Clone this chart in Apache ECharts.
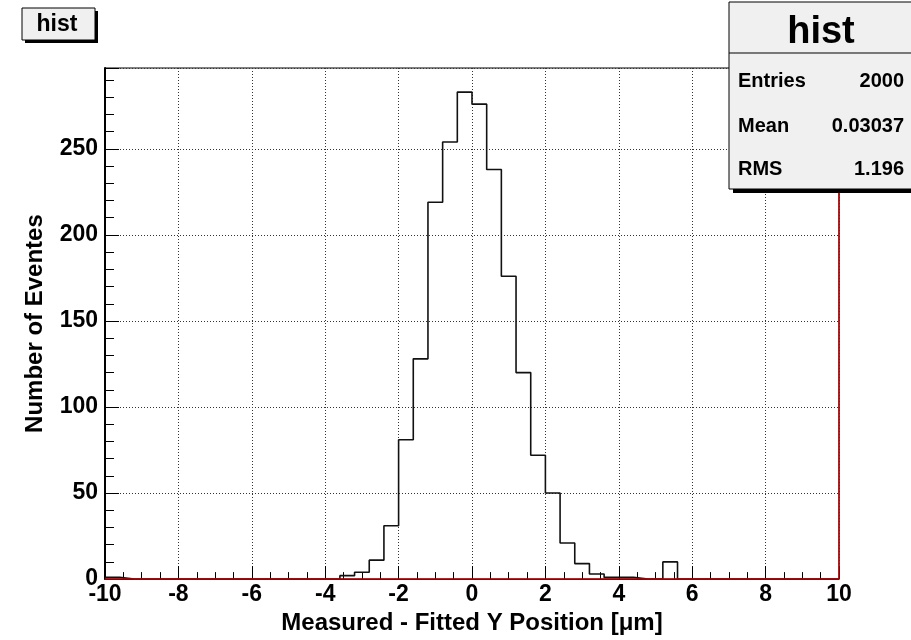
<!DOCTYPE html>
<html>
<head>
<meta charset="utf-8">
<script src="https://cdn.jsdelivr.net/npm/echarts@6/dist/echarts.min.js"></script>
<style>
html,body{margin:0;padding:0;background:#fff;}
#c{width:911px;height:640px;}
</style>
</head>
<body>
<div id="c"></div>
<script>
// ---- data ----
const binLow = -10;
const binWidth = 0.4;
const counts = [
  1, 0, 0, 0, 0, 0, 0, 0, 0, 0,
  0, 0, 0, 0, 0, 0, 2, 4, 11, 31,
  81, 128, 219, 254, 283, 276, 238, 176, 120, 72,
  50, 21, 9, 3, 1, 1, 0, 0, 10, 0,
  0, 0, 0, 0, 0, 0, 0, 0, 0, 0
];
const xTicks = [-10, -8, -6, -4, -2, 0, 2, 4, 6, 8, 10];
const yTicks = [0, 50, 100, 150, 200, 250];
const statsTitle = 'hist';
const statsNames = ['Entries', 'Mean', 'RMS'];
const statsValues = ['2000', '0.03037', '1.196'];
const xTitle = 'Measured - Fitted Y Position [\u03bcm]';
const yTitle = 'Number of Eventes';

// ---- build step outline ----
const stepData = counts.map((v, i) => [binLow + i * binWidth, v]);
stepData.push([binLow + counts.length * binWidth, counts[counts.length - 1]]);

const yMax = 297;
const FONT = '"Liberation Sans", Arial, Helvetica, sans-serif';

const chart = echarts.init(document.getElementById('c'), null, {renderer: 'canvas'});
chart.setOption({
  backgroundColor: '#ffffff',
  animation: false,
  grid: {left: 105, right: 72, top: 68, bottom: 56, show: true, borderColor: '#000', borderWidth: 1, backgroundColor: '#fff'},
  xAxis: {
    type: 'value', min: xTicks[0], max: xTicks[xTicks.length - 1], interval: 2,
    axisLine: {show: true, onZero: false, lineStyle: {color: '#000', width: 1}},
    axisTick: {show: true, inside: true, length: 13, lineStyle: {color: '#000', width: 1}},
    minorTick: {show: true, splitNumber: 4, length: 7, lineStyle: {color: '#000', width: 1}},
    splitLine: {show: true, lineStyle: {color: '#333', type: [1, 2], width: 1}},
    axisLabel: {color: '#000', fontFamily: FONT, fontWeight: 'bold', fontSize: 23, margin: 4,
      formatter: v => xTicks.includes(v) ? String(v) : ''},
    name: xTitle, nameLocation: 'middle', nameGap: 28,
    nameTextStyle: {color: '#000', fontFamily: FONT, fontWeight: 'bold', fontSize: 24}
  },
  yAxis: {
    type: 'value', min: 0, max: yMax, interval: 50,
    axisLine: {show: true, onZero: false, lineStyle: {color: '#000', width: 2}},
    axisTick: {show: true, inside: true, length: 14, lineStyle: {color: '#000', width: 1}},
    minorTick: {show: true, splitNumber: 5, length: 9, lineStyle: {color: '#000', width: 1}},
    splitLine: {show: true, lineStyle: {color: '#333', type: [1, 2], width: 1}},
    axisLabel: {color: '#000', fontFamily: FONT, fontWeight: 'bold', fontSize: 23, margin: 7,
      showMaxLabel: false,
      formatter: v => yTicks.includes(v) ? String(v) : ''},
    name: yTitle, nameLocation: 'middle', nameGap: 58, nameRotate: 90,
    nameTextStyle: {color: '#000', fontFamily: FONT, fontWeight: 'bold', fontSize: 24}
  },
  series: [{
    type: 'line',
    step: 'end',
    data: stepData,
    symbol: 'none',
    lineStyle: {color: '#111', width: 1.6},
    z: 3,
    markLine: {
      silent: true, symbol: 'none', animation: false,
      label: {show: false},
      lineStyle: {color: '#c00000', width: 1.5, type: 'solid'},
      data: [
        [{coord: [xTicks[0], 0]}, {coord: [xTicks[xTicks.length - 1], 0]}],
        [{coord: [xTicks[xTicks.length - 1], 0]}, {coord: [xTicks[xTicks.length - 1], yMax]}]
      ]
    }
  }],
  graphic: [
    // title box "hist"
    {type: 'rect', x: 25, y: 11, shape: {width: 73, height: 32}, style: {fill: '#000'}, z: 10},
    {type: 'rect', x: 22, y: 8, shape: {width: 73, height: 32}, style: {fill: '#f0f0f0', stroke: '#000', lineWidth: 1}, z: 11},
    {type: 'text', x: 57, y: 25, style: {text: statsTitle, font: 'bold 23px ' + FONT, fill: '#000', align: 'center', verticalAlign: 'middle'}, z: 12},
    // stats box
    {type: 'rect', x: 733, y: 6, shape: {width: 200, height: 187}, style: {fill: '#000'}, z: 10},
    {type: 'rect', x: 729, y: 2, shape: {width: 200, height: 187}, style: {fill: '#f0f0f0', stroke: '#000', lineWidth: 1}, z: 11},
    {type: 'line', shape: {x1: 729, y1: 53, x2: 911, y2: 53}, style: {stroke: '#000', lineWidth: 1}, z: 12},
    {type: 'text', x: 821, y: 33, style: {text: statsTitle, font: 'bold 38px ' + FONT, fill: '#000', align: 'center', verticalAlign: 'middle'}, z: 12},
    {type: 'text', x: 738, y: 81, style: {text: statsNames[0], font: 'bold 20px ' + FONT, fill: '#000', align: 'left', verticalAlign: 'middle'}, z: 12},
    {type: 'text', x: 738, y: 126, style: {text: statsNames[1], font: 'bold 20px ' + FONT, fill: '#000', align: 'left', verticalAlign: 'middle'}, z: 12},
    {type: 'text', x: 738, y: 169, style: {text: statsNames[2], font: 'bold 20px ' + FONT, fill: '#000', align: 'left', verticalAlign: 'middle'}, z: 12},
    {type: 'text', x: 904, y: 81, style: {text: statsValues[0], font: 'bold 20px ' + FONT, fill: '#000', align: 'right', verticalAlign: 'middle'}, z: 12},
    {type: 'text', x: 904, y: 126, style: {text: statsValues[1], font: 'bold 20px ' + FONT, fill: '#000', align: 'right', verticalAlign: 'middle'}, z: 12},
    {type: 'text', x: 904, y: 169, style: {text: statsValues[2], font: 'bold 20px ' + FONT, fill: '#000', align: 'right', verticalAlign: 'middle'}, z: 12}
  ]
});
</script>
</body>
</html>
